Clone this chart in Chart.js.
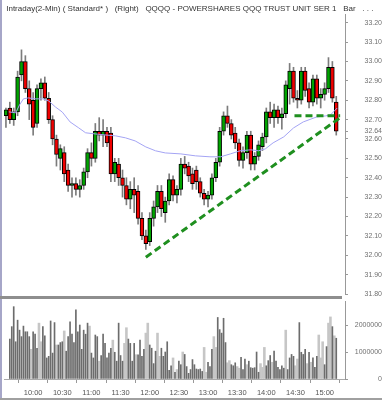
<!DOCTYPE html>
<html>
<head>
<meta charset="utf-8">
<script src="https://cdn.jsdelivr.net/npm/chart.js@4"></script>
<style>
  body { margin: 0; background: #fff; }
  #wrap { position: relative; width: 382px; height: 400px; overflow: hidden; }
  canvas { position: absolute; left: 0; }
  #priceChart { top: 0; }
  #volChart { top: 300px; }
  .frameLeft { position: absolute; left: 0; top: 0; width: 2px; height: 400px; background: #a6a6c8; }
  .split { position: absolute; left: 0; top: 296px; width: 342px; height: 3px; background: #8e8e8e; }
  .frameBottom { position: absolute; left: 0; top: 398px; width: 382px; height: 2px; background: #a0a0a0; }
</style>
</head>
<body>
<div id="wrap">
  <canvas id="priceChart" width="382" height="300"></canvas>
  <canvas id="volChart" width="382" height="100"></canvas>
  <div class="frameLeft"></div>
  <div class="split"></div>
  <div class="frameBottom"></div>
</div>
<script>
// minutes after 09:30, one candle per 4 minutes
const candleTimes = [2,6,10,14,18,22,26,30,34,38,42,46,50,54,58,62,66,70,74,78,82,86,90,94,98,102,106,110,114,118,
  122,126,130,134,138,142,146,150,154,158,162,166,170,174,178,182,186,190,194,198,202,206,210,214,218,222,226,230,234,238,
  242,246,250,254,258,262,266,270,274,278,282,286,290,294,298,302,306,310,314,318,322,326,330,334,338,342];
const candleOpen = [32.72,32.76,32.70,32.74,32.93,33.00,32.86,32.80,32.68,32.86,32.89,32.81,32.70,32.60,32.50,32.53,32.44,32.36,32.37,32.34,
  32.36,32.43,32.53,32.50,32.64,32.62,32.64,32.63,32.42,32.47,32.40,32.36,32.29,32.34,32.33,32.19,32.10,32.07,32.19,32.25,
  32.33,32.22,32.28,32.39,32.31,32.34,32.47,32.46,32.42,32.44,32.38,32.32,32.29,32.31,32.40,32.48,32.64,32.72,32.68,32.63,
  32.58,32.49,32.53,32.62,32.47,32.51,32.56,32.61,32.74,32.71,32.75,32.71,32.73,32.86,32.95,32.81,32.80,32.95,32.86,32.79,
  32.91,32.81,32.83,32.86,32.97,32.79];
const candleHigh = [32.76,32.79,32.76,32.95,33.06,33.03,32.90,32.84,32.88,32.91,32.92,32.84,32.72,32.62,32.57,32.56,32.47,32.40,32.40,32.39,
  32.45,32.55,32.58,32.68,32.71,32.70,32.66,32.66,32.50,32.50,32.44,32.40,32.38,32.40,32.36,32.22,32.13,32.22,32.28,32.36,
  32.36,32.30,32.42,32.41,32.36,32.50,32.51,32.48,32.45,32.46,32.40,32.34,32.33,32.42,32.50,32.66,32.74,32.77,32.70,32.66,
  32.60,32.56,32.64,32.64,32.53,32.59,32.63,32.76,32.79,32.78,32.77,32.76,32.90,32.99,32.97,32.85,32.97,32.97,32.89,32.93,
  32.93,32.86,32.89,33.02,33.00,32.82];
const candleLow = [32.66,32.68,32.67,32.72,32.90,32.84,32.70,32.62,32.66,32.80,32.80,32.68,32.57,32.46,32.44,32.38,32.33,32.30,32.31,32.30,
  32.34,32.40,32.46,32.48,32.59,32.56,32.56,32.38,32.38,32.36,32.30,32.26,32.24,32.22,32.16,32.08,32.03,32.05,32.15,32.22,
  32.20,32.17,32.26,32.28,32.27,32.31,32.42,32.38,32.34,32.34,32.30,32.26,32.25,32.29,32.38,32.46,32.62,32.66,32.60,32.55,
  32.46,32.45,32.50,32.44,32.44,32.49,32.54,32.58,32.68,32.66,32.68,32.65,32.71,32.78,32.79,32.76,32.78,32.82,32.76,32.77,
  32.78,32.76,32.80,32.84,32.79,32.62];
const candleClose = [32.75,32.70,32.74,32.92,33.00,32.86,32.78,32.66,32.86,32.89,32.81,32.70,32.60,32.52,32.55,32.42,32.36,32.37,32.34,32.36,
  32.43,32.53,32.50,32.64,32.62,32.64,32.58,32.42,32.48,32.40,32.36,32.29,32.34,32.31,32.19,32.10,32.06,32.19,32.25,32.33,
  32.24,32.28,32.39,32.31,32.34,32.47,32.45,32.41,32.37,32.38,32.32,32.29,32.31,32.40,32.48,32.64,32.72,32.68,32.62,32.58,
  32.49,32.53,32.62,32.47,32.51,32.57,32.61,32.74,32.71,32.75,32.71,32.73,32.88,32.95,32.81,32.80,32.95,32.85,32.79,32.91,
  32.81,32.83,32.86,32.97,32.81,32.64];

// blue average line, read at a few points
const avgTimes = [5,12,16,20,25,32,40,46,53,60,68,77,84,94,104,115,125,135,146,156,166,182,197,212,223,233,243,254,262,269,277,288,298,308,322,331,336,343];
const avgValues = [32.740,32.735,32.776,32.807,32.812,32.807,32.807,32.796,32.765,32.739,32.688,32.657,32.632,32.626,32.621,32.616,32.606,32.590,32.559,
  32.539,32.528,32.523,32.513,32.508,32.508,32.523,32.539,32.544,32.539,32.549,32.580,32.611,32.657,32.688,32.714,32.719,32.724,32.760];

// green dashed lines
const trendTimes = [146, 346];
const trendPrices = [31.99, 32.71];
const flatTimes = [299, 346];
const flatPrices = [32.72, 32.72];

// volume, one bar per 2 minutes starting at 09:36; 1 = light grey bar
const volStart = 6;
const volume = [
  1480000,1940000,2680000,1380000,2180000,1810000,1570000,1960000,1750000,1750000,
  1570000,1100000,1750000,1660000,1140000,2070000,1380000,1940000,1600000,780000,
  840000,2150000,960000,2090000,1260000,1260000,1350000,1380000,1780000,1030000,
  1570000,2120000,1660000,1350000,2560000,1750000,2000000,1100000,1810000,1660000,
  2070000,1960000,960000,780000,1630000,1570000,660000,870000,1660000,1320000,
  780000,960000,1140000,1440000,990000,660000,2070000,870000,660000,1320000,
  1900000,1480000,1320000,660000,1320000,900000,900000,1440000,840000,1100000,
  1700000,2070000,1260000,1140000,570000,1030000,1700000,840000,1140000,840000,
  1000000,1380000,320000,490000,780000,250000,350000,660000,530000,1000000,
  910000,460000,210000,
  350000,720000,530000,370000,350000,370000,280000,1170000,250000,620000,
  460000,1100000,1570000,1170000,2280000,1830000,1700000,2250000,1350000,600000,
  680000,530000,490000,600000,460000,400000,800000,350000,740000,530000,
  660000,420000,400000,420000,1000000,250000,570000,430000,1170000,490000,
  680000,870000,620000,1030000,660000,430000,350000,490000,400000,1810000,
  350000,780000,910000,840000,490000,740000,2090000,990000,910000,1100000,
  570000,990000,620000,780000,430000,840000,1630000,780000,1380000,530000,
  1200000,2070000,2300000,1940000,1600000,1510000
];
const volumeLight = [
  0,0,0,0,0,0,0,0,0,0, 0,1,0,0,0,1,1,0,0,0, 0,0,0,0,1,0,0,0,1,0, 0,0,0,0,0,0,0,0,0,0,
  0,1,0,0,0,0,1,0,0,0, 0,0,0,1,0,0,0,0,0,1, 1,0,0,0,0,1,0,0,0,0, 1,1,0,0,0,0,1,1,0,0,
  0,0,0,0,1,0,1,0,0,1, 0,0,0,
  0,0,0,0,0,0,0,1,1,0, 0,0,1,1,0,0,0,0,0,1, 1,0,0,0,1,1,0,0,0,1, 0,0,0,0,0,0,1,1,1,0,
  0,0,1,0,0,0,0,0,0,1, 0,0,0,0,1,1,0,0,0,0, 1,0,1,0,0,0,1,1,1,0, 0,1,1,0,1,0
];

const priceTickLabels = ['31.80','31.90','32.00','32.10','32.20','32.30','32.40','32.50','32.60','32.64','32.70','32.80','32.90','33.00','33.10','33.20'];
const volTickLabels = ['0','1000000','2000000'];
const timeLabels = ['10:00','10:30','11:00','11:30','12:00','12:30','13:00','13:30','14:00','14:30','15:00'];
const timeTickMinutes = [30,60,90,120,150,180,210,240,270,300,330];

const title = ' Intraday(2-Min) ( Standard* )   (Right)   QQQQ - POWERSHARES QQQ TRUST UNIT SER 1   Bar   . . .';

Chart.defaults.font.family = '"Liberation Sans", Arial, sans-serif';

const bodies = candleTimes.map((t, i) => ({ x: t, y: [candleOpen[i], candleClose[i]] }));
const wicks = candleTimes.map((t, i) => ({ x: t, y: [candleLow[i], candleHigh[i]] }));
const bodyColors = candleOpen.map((o, i) => candleClose[i] >= o ? '#00a400' : '#f00000');
const avgLine = avgTimes.map((t, i) => ({ x: t, y: avgValues[i] }));
const trendLine = trendTimes.map((t, i) => ({ x: t, y: trendPrices[i] }));
const flatLine = flatTimes.map((t, i) => ({ x: t, y: flatPrices[i] }));

const barStyle = { categoryPercentage: 1, barPercentage: 1, grouped: false };

new Chart(document.getElementById('priceChart'), {
    type: 'bar',
    data: {
        datasets: [
            { type: 'line', data: trendLine, borderColor: '#1f8f1f', borderWidth: 3, borderDash: [7, 4], pointRadius: 0, order: 0 },
            { type: 'line', data: flatLine, borderColor: '#1f8f1f', borderWidth: 3, borderDash: [7, 4], pointRadius: 0, order: 0 },
            { type: 'line', data: avgLine, borderColor: '#a4a4f4', borderWidth: 1, pointRadius: 0, tension: 0, order: 1 },
            { type: 'bar', data: bodies, backgroundColor: bodyColors, borderColor: '#000', borderWidth: 1, borderSkipped: false,
              maxBarThickness: 4, order: 2, ...barStyle },
            { type: 'bar', data: wicks, backgroundColor: '#7c7c7c', maxBarThickness: 1, order: 3, ...barStyle }
        ]
    },
    options: {
        responsive: false,
        animation: false,
        layout: { padding: { left: 4, right: 0, top: 0, bottom: 6 } },
        plugins: {
            legend: { display: false },
            tooltip: { enabled: false },
            title: {
                display: true, text: title, align: 'start', color: '#333',
                font: { size: 8, weight: 'normal' }, padding: { top: 4, bottom: 0.4 }
            }
        },
        scales: {
            x: { type: 'linear', min: 0, max: 351, offset: false, display: false },
            y: {
                // area top sits at y=14, so 33.20 lands at about y=22.7
                type: 'linear', position: 'right', min: 31.8, max: 33.245,
                grid: { drawOnChartArea: false, tickLength: 3, color: '#999' },
                border: { display: true, color: '#999', dash: [1, 1] },
                ticks: {
                    autoSkip: false, crossAlign: 'far', padding: 14.5, color: '#707070', font: { size: 7 },
                    callback: v => priceTickLabels.find(l => Math.abs(parseFloat(l) - v) < 1e-6) || ''
                },
                afterBuildTicks: s => { s.ticks = priceTickLabels.map(l => ({ value: parseFloat(l) })); },
                afterFit: s => { s.width = 37; s.paddingTop = 0; s.paddingBottom = 0; }
            }
        }
    }
});

const darkBars = [], lightBars = [];
volume.forEach((v, i) => {
    const p = { x: volStart + 2 * i, y: v };
    (volumeLight[i] ? lightBars : darkBars).push(p);
});

new Chart(document.getElementById('volChart'), {
    type: 'bar',
    data: {
        datasets: [
            { data: lightBars, backgroundColor: '#c6c6c6', maxBarThickness: 2, order: 1, ...barStyle },
            { data: darkBars, backgroundColor: '#6c6c6c', maxBarThickness: 1, order: 0, ...barStyle }
        ]
    },
    options: {
        responsive: false,
        animation: false,
        layout: { padding: { left: 4, right: 0, top: 1, bottom: 0 } },
        plugins: { legend: { display: false }, tooltip: { enabled: false } },
        scales: {
            x: {
                type: 'linear', min: 0, max: 351, offset: false, position: 'bottom',
                grid: { drawOnChartArea: false, tickLength: 4, color: '#999' },
                border: { display: true, color: '#aaa' },
                ticks: {
                    autoSkip: false, maxRotation: 0, padding: 5, color: '#555', font: { size: 7.5 },
                    callback: v => { const k = timeTickMinutes.indexOf(v); return k >= 0 ? timeLabels[k] : ''; }
                },
                afterBuildTicks: s => { s.ticks = timeTickMinutes.map(m => ({ value: m })); },
                afterFit: s => { s.height = 21; s.paddingLeft = 0; s.paddingRight = 0; }
            },
            y: {
                type: 'linear', position: 'right', min: 0, max: 2890000,
                grid: { drawOnChartArea: false, tickLength: 3, color: '#999' },
                border: { display: true, color: '#999', dash: [1, 1] },
                ticks: {
                    autoSkip: false, crossAlign: 'far', padding: 2.8, color: '#707070', font: { size: 7 },
                    callback: v => volTickLabels.find(l => parseFloat(l) === v) || ''
                },
                afterBuildTicks: s => { s.ticks = volTickLabels.map(l => ({ value: parseFloat(l) })); },
                afterFit: s => { s.width = 37; s.paddingTop = 0; s.paddingBottom = 0; }
            }
        }
    }
});
</script>
</body>
</html>
